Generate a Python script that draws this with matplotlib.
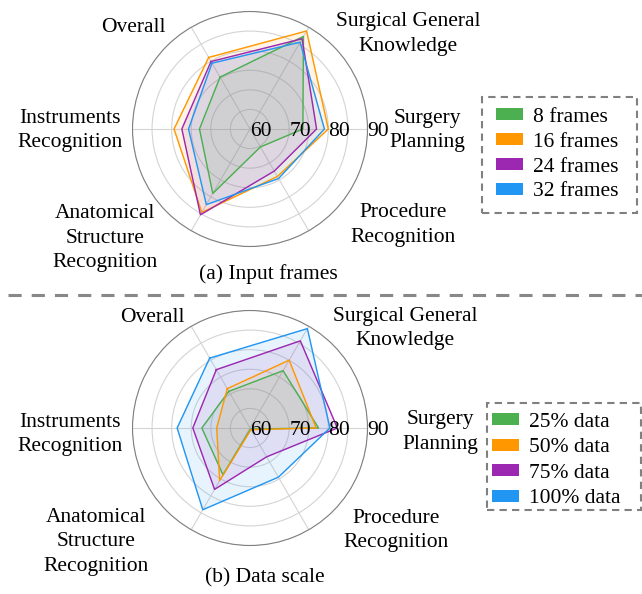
import numpy as np
import matplotlib
matplotlib.use("Agg")
import matplotlib.pyplot as plt
from matplotlib.patches import Patch, Rectangle
from matplotlib.lines import Line2D

plt.rcParams['font.family'] = ['Liberation Serif', 'DejaVu Serif']

W, H = 642, 594

# axes, clockwise starting from "Overall"
categories = ["Overall", "Surgical General\nKnowledge", "Surgery\nPlanning",
              "Procedure\nRecognition", "Anatomical\nStructure\nRecognition",
              "Instruments\nRecognition"]

colors = ["#4CAF50", "#FF9800", "#9C27B0", "#2196F3"]

# (a) input frames
frame_names = ["8 frames", "16 frames", "24 frames", "32 frames"]
frames_8 = [75.3, 87.3, 73.5, 65.3, 79.0, 72.9]
frames_16 = [81.1, 88.9, 80.0, 74.0, 84.6, 79.4]
frames_24 = [79.9, 86.6, 77.0, 72.4, 85.3, 77.4]
frames_32 = [79.4, 85.6, 79.0, 74.6, 82.3, 75.7]

# (b) data scale
scale_names = ["25% data", "50% data", "75% data", "100% data"]
data_25 = [70.8, 76.9, 77.5, 60.3, 73.8, 72.3]
data_50 = [71.6, 80.0, 76.9, 60.5, 75.5, 68.5]
data_75 = [77.2, 85.7, 82.3, 68.5, 78.1, 74.6]
data_100 = [80.6, 89.3, 80.4, 74.5, 84.1, 78.6]

r_ticks = [60, 65, 70, 75, 80, 85, 90]
r_labels = [60, 70, 80, 90]


def px(x, y):
    """ pixel position (from top-left) -> figure fraction """
    return x / W, 1 - y / H


def draw_radar(ax, series):
    angles = np.deg2rad((120 - 60 * np.arange(len(categories))) % 360)
    closed = np.append(angles, angles[0])
    for vals, c in zip(series, colors):
        v = np.append(vals, vals[0])
        ax.plot(closed, v, color=c, lw=1.0, zorder=3)
        ax.fill(closed, v, color=c, alpha=0.1, zorder=2)
    ax.set_ylim(60, 90)
    ax.set_yticks(r_ticks)
    ax.set_yticklabels([])
    ax.set_xticks(angles)
    ax.set_xticklabels([])
    ax.grid(color="#d4d4d4", lw=0.8)
    ax.spines['polar'].set_color("#808080")
    ax.spines['polar'].set_linewidth(0.8)
    ax.tick_params(length=0)
    for r in r_labels:
        ax.text(0, r, str(r), ha="left", va="center_baseline", fontsize=15.5, zorder=5)


def draw_legend(names, text_top, handle_left, box, spacing):
    handles = [Patch(facecolor=c, edgecolor="none") for c in colors]
    fig.legend(handles, names, loc="upper left", bbox_to_anchor=px(handle_left, text_top),
               frameon=False, fontsize=15.5, borderpad=0, borderaxespad=0,
               handlelength=1.25, handleheight=0.47, handletextpad=0.45, labelspacing=spacing)
    x0, y0, x1, y1 = box
    fig.add_artist(Rectangle(px(x0, y1), (x1 - x0) / W, (y1 - y0) / H,
                             transform=fig.transFigure, fill=False, edgecolor="#808080",
                             lw=1.5, ls=(0, (3.5, 2.5))))


fig = plt.figure(figsize=(W / 100, H / 100), dpi=100)

ax_a = fig.add_axes([132.5 / W, 1 - 246.5 / H, 235 / W, 235 / H], projection="polar")
draw_radar(ax_a, [frames_8, frames_16, frames_24, frames_32])
ax_b = fig.add_axes([132.5 / W, 1 - 545.5 / H, 235 / W, 235 / H], projection="polar")
draw_radar(ax_b, [data_25, data_50, data_75, data_100])

# category labels, placed by hand like in the paper figure
label_pos_a = [(133, 28), (408, 34), (427, 130.5), (403, 225), (105, 238), (70, 130.5)]
label_pos_b = [(152, 318), (405, 328.5), (440, 432), (396, 530.5), (96, 542), (70, 434.5)]
for name, pa, pb in zip(categories, label_pos_a, label_pos_b):
    fig.text(*px(*pa), name, ha="center", va="center", fontsize=15.5, linespacing=1.36)
    fig.text(*px(*pb), name, ha="center", va="center", fontsize=15.5, linespacing=1.36)

fig.text(*px(268, 274), "(a) Input frames", ha="center", va="center", fontsize=15.5)
fig.text(*px(265, 578), "(b) Data scale", ha="center", va="center", fontsize=15.5)

# separator between the two panels
sep_y = 1 - 295 / H
fig.add_artist(Line2D([8 / W, 1], [sep_y, sep_y], transform=fig.transFigure,
                      color="#888888", lw=2.2, ls=(0, (4.3, 3.3))))

draw_legend(frame_names, 108, 496, (482, 97, 637, 213), 0.27)
draw_legend(scale_names, 413, 492, (487, 403, 641, 510), 0.3)

fig.savefig("out.png", dpi=100)
